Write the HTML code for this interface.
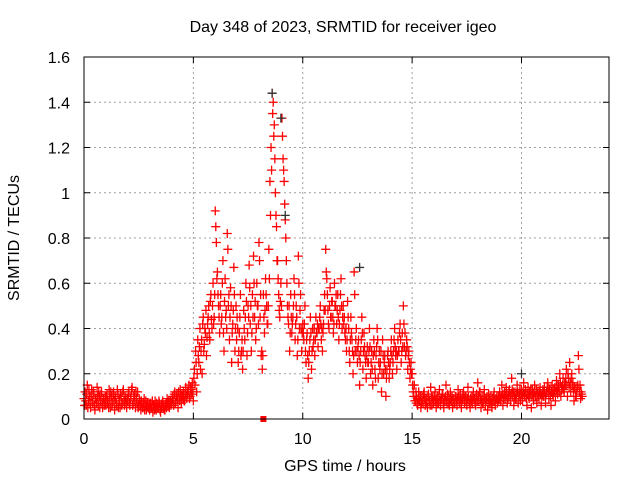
<!DOCTYPE html>
<html><head><meta charset="utf-8"><style>
html,body{margin:0;padding:0;background:#fff;}
svg{display:block;font-family:"Liberation Sans",sans-serif;}
</style></head><body>
<svg id="chart" width="640" height="480">
<text x="343" y="32" font-size="16" text-anchor="middle">Day 348 of 2023, SRMTID for receiver igeo</text>
<text x="345" y="471" font-size="16" text-anchor="middle">GPS time / hours</text>
<text transform="translate(19,238) rotate(-90)" font-size="16" text-anchor="middle">SRMTID / TECUs</text>
<g id="grid"></g><g id="ticks"></g><g id="marks"></g>
<rect x="84" y="57" width="525" height="362" fill="none" stroke="#000" stroke-width="1"/>
</svg>
<script>
const xTicks=[0,5,10,15,20];
const yTicks=[0,0.2,0.4,0.6,0.8,1,1.2,1.4,1.6];
const yTickLabels=["0","0.2","0.4","0.6","0.8","1","1.2","1.4","1.6"];
const startHour=0;
const stepHour=0.05;
const redValues=[
0.09,0.12,0.06,0.15,0.08,0.1,0.05,0.13,0.07,0.11,0.04,0.09,0.14,0.06,0.1,0.08,0.12,0.05,0.09,0.07,
0.06,0.11,0.08,0.13,0.05,0.1,0.07,0.12,0.04,0.09,0.06,0.11,0.08,0.05,0.1,0.07,0.13,0.06,0.09,0.05,
0.08,0.12,0.06,0.1,0.14,0.07,0.11,0.05,0.09,0.12,0.06,0.08,0.04,0.07,0.05,0.09,0.06,0.04,0.07,0.05,
0.04,0.07,0.05,0.03,0.06,0.08,0.04,0.06,0.05,0.07,0.03,0.05,0.08,0.06,0.04,0.07,0.09,0.06,0.05,0.08,
0.07,0.1,0.06,0.12,0.08,0.11,0.05,0.09,0.13,0.07,0.1,0.12,0.08,0.14,0.09,0.11,0.15,0.1,0.13,0.16,
0.08,0.22,0.3,0.12,0.35,0.25,0.4,0.3,0.2,0.45,0.33,0.38,0.28,0.42,0.5,0.35,0.55,0.4,0.6,0.45,
0.92,0.78,0.65,0.5,0.38,0.55,0.45,0.7,0.3,0.62,0.48,0.82,0.5,0.35,0.58,0.25,0.42,0.67,0.3,0.5,
0.45,0.25,0.38,0.55,0.3,0.22,0.48,0.35,0.6,0.28,0.5,0.68,0.42,0.3,0.55,0.72,0.45,0.35,0.6,0.5,
0.78,0.45,0.28,0.22,0.55,0.38,0.62,0.5,0.42,0.75,1.05,1.2,1.44,1.4,1.3,1.0,0.85,0.7,0.55,0.45,
0.6,1.33,1.15,1.05,0.88,0.7,0.5,0.42,0.3,0.55,0.38,0.45,0.62,0.35,0.5,0.28,0.72,0.4,0.55,0.3,
0.42,0.35,0.5,0.25,0.38,0.18,0.3,0.45,0.22,0.4,0.35,0.28,0.45,0.38,0.32,0.4,0.5,0.35,0.3,0.42,
0.55,0.75,0.62,0.48,0.4,0.58,0.45,0.52,0.38,0.6,0.5,0.42,0.55,0.35,0.48,0.62,0.4,0.5,0.45,0.35,
0.3,0.52,0.4,0.25,0.45,0.35,0.2,0.65,0.3,0.4,0.25,0.35,0.15,0.3,0.45,0.22,0.38,0.28,0.18,0.32,
0.25,0.4,0.2,0.3,0.15,0.35,0.22,0.28,0.4,0.18,0.3,0.25,0.12,0.35,0.2,0.28,0.1,0.22,0.3,0.18,
0.25,0.35,0.2,0.3,0.4,0.28,0.22,0.35,0.3,0.42,0.25,0.38,0.5,0.32,0.28,0.35,0.22,0.3,0.18,0.25,
0.2,0.12,0.15,0.08,0.1,0.06,0.12,0.08,0.05,0.1,0.07,0.12,0.06,0.09,0.05,0.11,0.08,0.14,0.06,0.1,
0.08,0.12,0.05,0.1,0.07,0.13,0.06,0.09,0.11,0.05,0.08,0.15,0.07,0.1,0.06,0.12,0.08,0.05,0.09,0.07,
0.1,0.06,0.13,0.08,0.11,0.05,0.09,0.12,0.07,0.1,0.06,0.14,0.08,0.05,0.1,0.07,0.12,0.09,0.06,0.11,
0.16,0.08,0.12,0.05,0.1,0.07,0.13,0.06,0.09,0.04,0.11,0.07,0.1,0.05,0.08,0.12,0.06,0.09,0.07,0.1,
0.12,0.08,0.15,0.06,0.11,0.09,0.14,0.07,0.1,0.13,0.08,0.18,0.1,0.06,0.12,0.09,0.15,0.07,0.11,0.08,
0.13,0.08,0.16,0.1,0.12,0.06,0.14,0.09,0.11,0.05,0.13,0.08,0.15,0.1,0.07,0.12,0.09,0.14,0.06,0.11,
0.1,0.14,0.07,0.12,0.16,0.09,0.13,0.06,0.15,0.1,0.12,0.08,0.17,0.11,0.14,0.2,0.1,0.13,0.18,0.12,
0.15,0.22,0.1,0.18,0.25,0.12,0.2,0.16,0.08,0.13,0.1,0.14,0.28,0.12,0.09,0.11
];
const redValues2=[
0.06,0.08,0.11,0.05,0.13,0.07,0.1,0.08,0.12,0.06,0.09,0.07,0.1,0.12,0.05,0.11,0.07,0.09,0.06,0.1,
0.1,0.07,0.05,0.09,0.12,0.06,0.11,0.08,0.1,0.07,0.13,0.05,0.09,0.11,0.06,0.12,0.08,0.1,0.07,0.09,
0.11,0.07,0.09,0.13,0.06,0.1,0.08,0.12,0.07,0.05,0.09,0.06,0.08,0.05,0.07,0.04,0.08,0.06,0.05,0.07,
0.06,0.05,0.08,0.06,0.04,0.05,0.07,0.05,0.08,0.04,0.06,0.07,0.05,0.04,0.06,0.05,0.07,0.08,0.07,0.06,
0.09,0.08,0.11,0.07,0.1,0.09,0.12,0.08,0.1,0.11,0.09,0.08,0.11,0.1,0.12,0.13,0.09,0.14,0.11,0.12,
0.18,0.15,0.25,0.2,0.28,0.32,0.22,0.35,0.42,0.3,0.4,0.48,0.36,0.45,0.38,0.52,0.44,0.5,0.42,0.55,
0.85,0.62,0.55,0.45,0.5,0.42,0.6,0.38,0.52,0.45,0.4,0.75,0.55,0.45,0.5,0.38,0.48,0.55,0.4,0.35,
0.4,0.3,0.45,0.28,0.35,0.3,0.4,0.45,0.52,0.38,0.45,0.58,0.5,0.38,0.45,0.6,0.52,0.4,0.5,0.42,
0.7,0.55,0.3,0.28,0.45,0.48,0.55,0.42,0.5,0.62,0.9,1.1,1.35,1.25,1.15,0.9,0.7,0.62,0.48,0.52,
0.5,1.25,1.1,0.95,0.8,0.6,0.45,0.5,0.38,0.45,0.42,0.5,0.55,0.42,0.45,0.35,0.6,0.48,0.4,0.38,
0.38,0.42,0.3,0.35,0.28,0.25,0.35,0.38,0.3,0.32,0.4,0.35,0.38,0.42,0.4,0.45,0.42,0.4,0.38,0.48,
0.48,0.65,0.55,0.42,0.5,0.45,0.52,0.45,0.42,0.5,0.55,0.48,0.45,0.42,0.55,0.5,0.45,0.42,0.38,0.4,
0.35,0.45,0.3,0.35,0.38,0.3,0.28,0.55,0.35,0.3,0.32,0.28,0.25,0.35,0.38,0.3,0.32,0.25,0.28,0.25,
0.3,0.32,0.25,0.22,0.28,0.3,0.18,0.32,0.35,0.25,0.22,0.3,0.2,0.28,0.25,0.22,0.18,0.28,0.25,0.22,
0.3,0.28,0.25,0.35,0.32,0.3,0.28,0.3,0.38,0.35,0.3,0.32,0.42,0.38,0.3,0.32,0.28,0.25,0.22,0.2,
0.15,0.1,0.08,0.12,0.07,0.09,0.08,0.1,0.07,0.08,0.11,0.09,0.08,0.07,0.1,0.08,0.06,0.1,0.09,0.07,
0.1,0.08,0.09,0.07,0.1,0.08,0.09,0.11,0.07,0.09,0.1,0.08,0.11,0.07,0.09,0.08,0.1,0.09,0.07,0.1,
0.08,0.09,0.1,0.07,0.09,0.08,0.11,0.09,0.1,0.08,0.09,0.1,0.07,0.09,0.08,0.1,0.09,0.07,0.1,0.08,
0.1,0.12,0.09,0.08,0.07,0.1,0.09,0.08,0.1,0.07,0.09,0.08,0.07,0.09,0.1,0.08,0.09,0.1,0.08,0.09,
0.09,0.1,0.11,0.09,0.12,0.1,0.11,0.09,0.12,0.1,0.11,0.13,0.12,0.1,0.09,0.11,0.12,0.1,0.13,0.11,
0.1,0.12,0.11,0.13,0.09,0.11,0.1,0.12,0.13,0.1,0.11,0.12,0.1,0.13,0.11,0.1,0.12,0.11,0.1,0.13,
0.12,0.1,0.11,0.14,0.12,0.13,0.1,0.12,0.11,0.13,0.14,0.12,0.13,0.15,0.12,0.16,0.14,0.15,0.13,0.16,
0.18,0.15,0.2,0.14,0.16,0.18,0.15,0.12,0.14,0.1,0.12,0.15,0.22,0.15,0.12,0.1
];
const blackTimes=[8.6,9.0,9.2,12.6,20.0];
const blackValues=[1.44,1.33,0.9,0.67,0.2];
const squareTimes=[8.2];
const squareValues=[0];

const NS="http://www.w3.org/2000/svg";
const X0=84,X1=609,Y0=419,Y1=57,XMAX=24,YMAX=1.6;
function xs(v){return X0+(v/XMAX)*(X1-X0);}
function ys(v){return Y0-(v/YMAX)*(Y0-Y1);}
function mk(tag,attrs,parent){const e=document.createElementNS(NS,tag);for(const k in attrs)e.setAttribute(k,attrs[k]);parent.appendChild(e);return e;}
const grid=document.getElementById('grid'),ticks=document.getElementById('ticks'),marks=document.getElementById('marks');
xTicks.forEach(t=>{
  const x=xs(t);
  if(t>0){const g=mk('line',{x1:x,x2:x,y1:Y0,y2:Y1,stroke:'#a0a0a0','stroke-dasharray':'2,3'},grid);
  
  }
  mk('line',{x1:x,x2:x,y1:Y0,y2:Y0-6,stroke:'#000'},ticks);
  mk('line',{x1:x,x2:x,y1:Y1,y2:Y1+6,stroke:'#000'},ticks);
  const l=mk('text',{x:x,y:444,'font-size':16,'text-anchor':'middle'},ticks);
  l.textContent=String(t);
  
  
});
yTicks.forEach((t,i)=>{
  const y=ys(t);
  if(t>0&&t<YMAX){const g=mk('line',{x1:X0,x2:X1,y1:y,y2:y,stroke:'#a0a0a0','stroke-dasharray':'2,3'},grid);
  
  }
  mk('line',{x1:X0,x2:X0+6,y1:y,y2:y,stroke:'#000'},ticks);
  mk('line',{x1:X1,x2:X1-6,y1:y,y2:y,stroke:'#000'},ticks);
  const l=mk('text',{x:70,y:y+6,'font-size':16,'text-anchor':'end'},ticks);
  l.textContent=yTickLabels[i];
  
  
});
function cross(t,v,color,name){
  const x=xs(t),y=ys(v);
  const p=mk('path',{d:`M${x-4.5} ${y}h9M${x} ${y-4.5}v9`,stroke:color,'stroke-width':1.3,fill:'none'},marks);
  
  
}
redValues.forEach((v,i)=>cross(startHour+i*stepHour,v,'#ff0000','srmtid-point'));
redValues2.forEach((v,i)=>cross(startHour+stepHour/2+i*stepHour,v,'#ff0000','srmtid-point'));
blackTimes.forEach((t,i)=>cross(t,blackValues[i],'#333','srmtid-point-alt'));
squareTimes.forEach((t,i)=>{
  const r=mk('rect',{x:xs(t)-3,y:ys(squareValues[i])-3,width:6,height:6,fill:'#ff0000'},marks);
  
  
});
</script>
</body></html>
